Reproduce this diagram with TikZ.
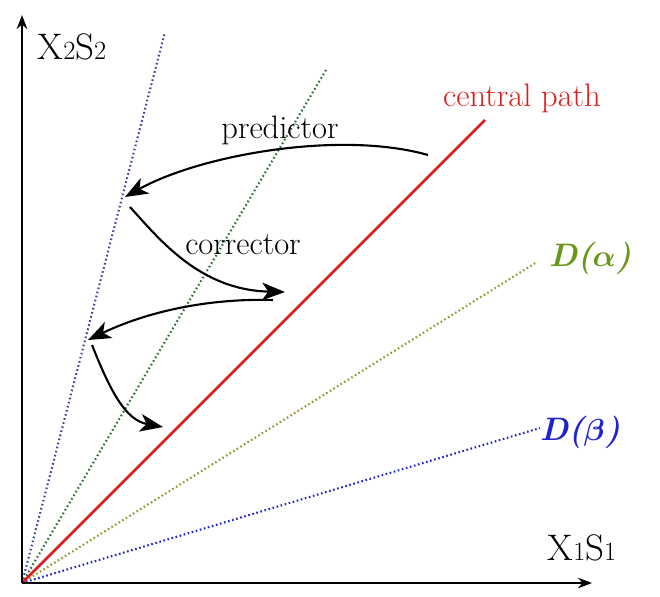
\documentclass[tikz,border=0pt]{standalone}
\usepackage{amsmath, bm}
\usepackage{xcolor}
\usetikzlibrary{arrows.meta}

\definecolor{PathRed}{RGB}{222,30,30}
\definecolor{SteepBlue}{RGB}{60,60,170}
\definecolor{MidGreen}{RGB}{40,110,50}
\definecolor{AlphaOlive}{RGB}{150,150,40}
\definecolor{AlphaGreen}{RGB}{105,150,25}
\definecolor{BetaBlue}{RGB}{30,35,205}

\begin{document}
\begin{tikzpicture}[
    axis/.style={line width=1.6pt, -{Stealth[length=8pt, width=6pt]}},
    ray/.style={line width=1.2pt, dash pattern=on 0.9pt off 1.5pt},
    move/.style={line width=1.2pt, -{Stealth[length=13pt, width=10pt, inset=3.5pt]}},
    lab/.style={font=\fontsize{18.5}{22}\selectfont, inner sep=1pt},
    axlab/.style={font=\fontsize{21}{25}\selectfont, inner sep=1pt}
  ]

  % Frame of the picture
  \useasboundingbox (-0.44,-0.26) rectangle (12.76,11.66);

  % Corner and end points
  \coordinate (O) at (0,0);
  \coordinate (ytop) at (0,11.36);
  \coordinate (xend) at (11.4,0);
  \coordinate (steep) at (2.86,11.02);
  \coordinate (mid) at (6.08,10.26);
  \coordinate (cent) at (9.26,9.26);
  \coordinate (alpha) at (10.3,6.42);
  \coordinate (beta) at (10.36,3.1);

  % Dotted neighbourhood rays
  \draw[ray, SteepBlue] (O) -- (steep);
  \draw[ray, MidGreen] (O) -- (mid);
  \draw[ray, AlphaOlive] (O) -- (alpha);
  \draw[ray, BetaBlue] (O) -- (beta);

  % Central path
  \draw[line width=1.5pt, PathRed] (O) -- (cent);

  % Axes
  \draw[axis] (O) -- (ytop);
  \draw[axis] (O) -- (xend);

  % Axis labels
  \node[axlab] (ylab) at (1.0,10.72)
        {X{\fontsize{15}{15}\selectfont 2}S{\fontsize{15}{15}\selectfont 2}};
  \node[axlab] (xlab) at (11.2,0.7)
        {X{\fontsize{15}{15}\selectfont 1}S{\fontsize{15}{15}\selectfont 1}};

  % Curve labels
  \node[lab, PathRed] (centlab) at (10.0,9.7) {central path};
  \node[lab, AlphaGreen] (alab) at (11.36,6.5)
        {\bfseries\itshape D($\bm{\alpha}$)};
  \node[lab, BetaBlue] (blab) at (11.16,3.02)
        {\bfseries\itshape D($\bm{\beta}$)};

  % Step points
  \coordinate (p1s) at (8.12,8.56);
  \coordinate (p1e) at (2.06,7.72);
  \coordinate (c1s) at (2.16,7.52);
  \coordinate (c1e) at (5.26,5.82);
  \coordinate (p2s) at (5.02,5.66);
  \coordinate (p2e) at (1.32,4.86);
  \coordinate (c2s) at (1.4,4.76);
  \coordinate (c2e) at (2.82,3.12);

  % Predictor and corrector steps
  \draw[move] (p1s) .. controls (6.36,9.06) and (3.56,8.56) .. (p1e);
  \draw[move] (c1s) .. controls (2.76,6.86) and (3.56,5.86) .. (c1e);
  \draw[move] (p2s) .. controls (3.56,5.7) and (2.36,5.36) .. (p2e);
  \draw[move] (c2s) .. controls (1.76,3.86) and (2.06,3.26) .. (c2e);

  \node[lab] (predlab) at (5.16,9.06) {predictor};
  \node[lab] (corrlab) at (4.42,6.76) {corrector};

\end{tikzpicture}
\end{document}
